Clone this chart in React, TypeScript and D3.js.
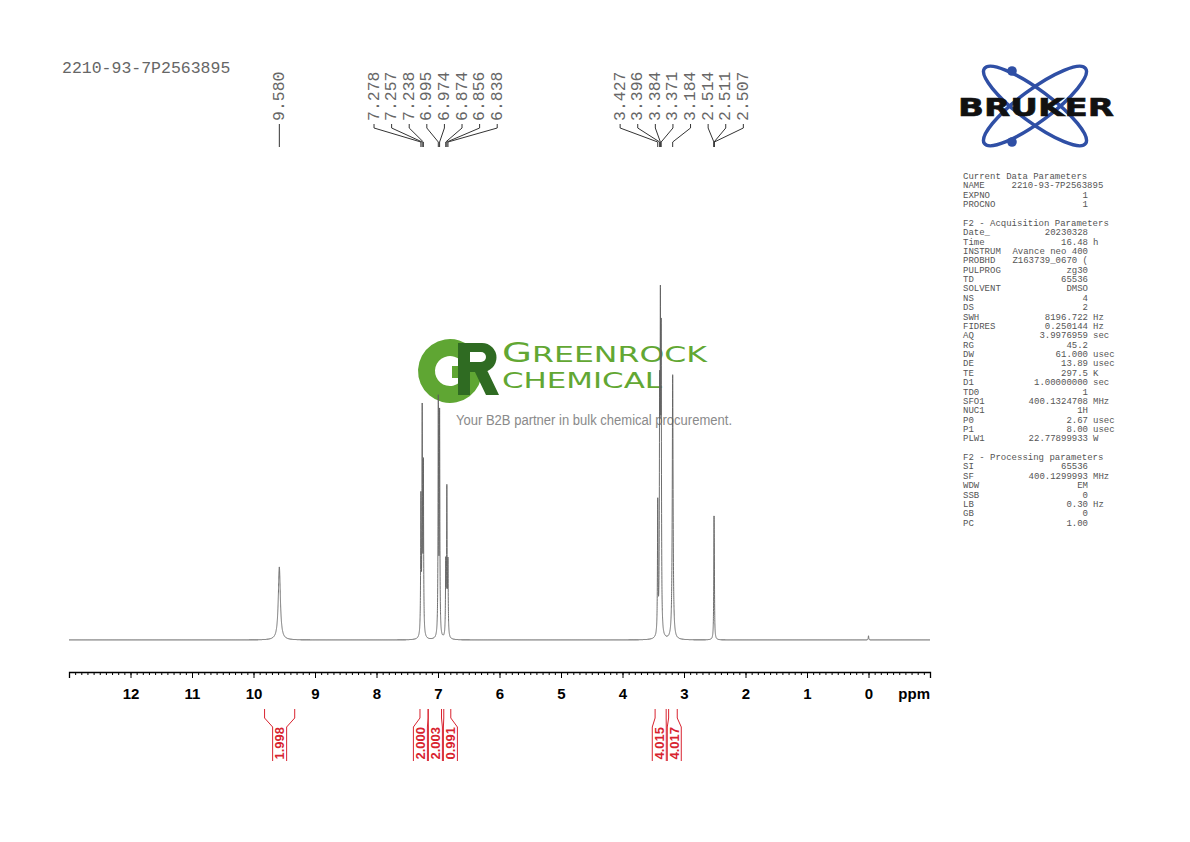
import React, { useEffect, useMemo, useRef } from "react";
import * as d3 from "d3";

const sampleName = "2210-93-7P2563895";

// 1H peak list: shift (ppm), height (% of tallest line), half width (ppm)
const peakShifts = [9.58, 7.278, 7.257, 7.238, 6.995, 6.974, 6.874, 6.856, 6.838, 3.427, 3.396, 3.384, 3.371, 3.184, 2.514, 2.511, 2.507, 0.0];
const peakHeights = [20.7, 38, 62, 47, 66, 62, 20, 41, 20, 37, 60, 81, 78, 75, 15, 18, 15, 1.2];
const peakWidths = [0.02, 0.005, 0.005, 0.005, 0.005, 0.005, 0.005, 0.005, 0.005, 0.005, 0.005, 0.005, 0.005, 0.008, 0.004, 0.004, 0.004, 0.005];
const peakLabels = ["9.580", "7.278", "7.257", "7.238", "6.995", "6.974", "6.874", "6.856", "6.838", "3.427", "3.396", "3.384", "3.371", "3.184", "2.514", "2.511", "2.507"];

// integral regions (ppm) and values
const integralFrom = [9.82, 7.293, 7.16, 6.906, 3.47, 3.25];
const integralTo = [9.33, 7.16, 6.943, 6.792, 3.29, 3.11];
const integralValues = ["1.998", "2.000", "2.003", "0.991", "4.015", "4.017"];

const tickValues = [12, 11, 10, 9, 8, 7, 6, 5, 4, 3, 2, 1, 0];

const paramNames = ["Current Data Parameters", "NAME", "EXPNO", "PROCNO", "", "F2 - Acquisition Parameters", "Date_", "Time", "INSTRUM", "PROBHD", "PULPROG", "TD", "SOLVENT", "NS", "DS", "SWH", "FIDRES", "AQ", "RG", "DW", "DE", "TE", "D1", "TD0", "SFO1", "NUC1", "P0", "P1", "PLW1", "", "F2 - Processing parameters", "SI", "SF", "WDW", "SSB", "LB", "GB", "PC"];
const paramValues = ["", "2210-93-7P2563895", "1", "1", "", "", "20230328", "16.48", "Avance neo 400", "Z163739_0670 (", "zg30", "65536", "DMSO", "4", "2", "8196.722", "0.250144", "3.9976959", "45.2", "61.000", "13.89", "297.5", "1.00000000", "1", "400.1324708", "1H", "2.67", "8.00", "22.77899933", "", "", "65536", "400.1299993", "EM", "0", "0.30", "0", "1.00"];
const paramUnits = ["", "", "", "", "", "", "", "h", "", "", "", "", "", "", "", "Hz", "Hz", "sec", "", "usec", "usec", "K", "sec", "", "MHz", "", "usec", "usec", "W", "", "", "", "MHz", "", "", "Hz", "", ""];

const mono = "'Liberation Mono', 'Courier New', monospace";
const sans = "'Liberation Sans', Arial, sans-serif";
const red = "#d8232f";

// spread label centres so that neighbours are at least `gap` apart
function spread(targets: number[], gap: number): number[] {
  const clusters: { sum: number; n: number; start: number }[] = [];
  targets.forEach((t) => {
    clusters.push({ sum: t, n: 1, start: t });
    while (clusters.length > 1) {
      const b = clusters[clusters.length - 1];
      const a = clusters[clusters.length - 2];
      if (a.start + a.n * gap <= b.start) break;
      clusters.pop();
      a.sum += b.sum;
      a.n += b.n;
      a.start = a.sum / a.n - ((a.n - 1) * gap) / 2;
    }
  });
  const out: number[] = [];
  clusters.forEach((c) => {
    for (let i = 0; i < c.n; i++) out.push(c.start + i * gap);
  });
  return out;
}

export default function App() {
  const axisRef = useRef<SVGGElement>(null);

  const x = d3.scaleLinear().domain([13, -1]).range([69, 930]);
  const y = d3.scaleLinear().domain([0, 100]).range([640, 287]);
  const axisY = 672;

  const spectrumPath = useMemo(() => {
    const pts: [number, number][] = d3.range(13, -1.0001, -0.0005).map((p) => {
      let v = 0;
      peakShifts.forEach((c, i) => {
        const d = (p - c) / peakWidths[i];
        v += peakHeights[i] / (1 + d * d);
      });
      return [p, v];
    });
    return d3
      .line<[number, number]>()
      .x((d) => x(d[0]))
      .y((d) => y(d[1]))(pts);
  }, []);

  // ring of the "G" in the watermark logo
  const gRing = d3.arc()({ innerRadius: 15, outerRadius: 32, startAngle: Math.PI / 2, endAngle: 2 * Math.PI + 0.75 });

  useEffect(() => {
    if (!axisRef.current) return;
    const g = d3.select(axisRef.current);
    g.selectAll("*").remove();

    g.append("g")
      .call(d3.axisBottom(x).tickValues(x.ticks(140)).tickSize(3).tickSizeOuter(0).tickFormat(() => ""))
      .call((s) => s.select(".domain").remove());

    const major = g
      .append("g")
      .call(d3.axisBottom(x).tickValues(tickValues).tickSize(6).tickSizeOuter(6).tickPadding(10).tickFormat(d3.format("d")));

    g.attr("color", "#000");
    g.selectAll("line").attr("stroke-width", 1);
    major.select(".domain").attr("stroke-width", 1.3);
    major
      .selectAll("text")
      .attr("font-family", sans)
      .attr("font-weight", "bold")
      .attr("font-size", 15)
      .attr("fill", "#000");
  }, []);

  // peak labels
  const labelledX = peakLabels.map((_, i) => x(peakShifts[i]));
  const labelX = spread(labelledX, 17.6);

  // integral label boxes
  const intCenters = integralFrom.map((f, i) => (x(f) + x(integralTo[i])) / 2);
  const boxX = spread(intCenters, 15);

  const rowH = 9.37;

  return (
    <div style={{ position: "absolute", left: 0, top: 0 }}>
      <svg width={1190} height={842} style={{ display: "block", background: "#fff" }}>
        {/* watermark */}
        <g>
          <path d={gRing ?? ""} transform="translate(450,371)" fill="#5fa633" />
          <rect x={452} y={366} width={30} height={12} fill="#5fa633" />
          <path
            d="M458,343H482A14.5,14.5 0 0 1 482,372H458Z M458,343H470V395H458Z M474,370H487L499,395H486Z"
            fill="#2f6b22"
          />
          <path d="M470,352H481A5,5 0 0 1 481,362H470Z" fill="#fff" />
          <text x={502} y={361.5} fontFamily="'DejaVu Sans', sans-serif" fontSize={22} fill="#62a733" textLength={205} lengthAdjust="spacingAndGlyphs">
            <tspan fontSize={27}>G</tspan>REENROCK
          </text>
          <text x={502} y={388} fontFamily="'DejaVu Sans', sans-serif" fontSize={22} fill="#62a733" textLength={160} lengthAdjust="spacingAndGlyphs">
            CHEMICAL
          </text>
          <text x={456} y={425} fontFamily={sans} fontSize={14} fill="#8a8a8a" textLength={276} lengthAdjust="spacingAndGlyphs">
            Your B2B partner in bulk chemical procurement.
          </text>
        </g>

        {/* spectrum */}
        <path d={spectrumPath ?? ""} fill="none" stroke="#5f5f5f" strokeWidth={0.9} />

        {/* ppm axis */}
        <g ref={axisRef} transform={`translate(0,${axisY})`} />
        <text x={930} y={699} textAnchor="end" fontFamily={sans} fontWeight="bold" fontSize={15}>
          ppm
        </text>

        {/* sample name */}
        <text x={62} y={73} fontFamily={mono} fontSize={16.5} fill="#666">
          {sampleName}
        </text>

        {/* peak labels */}
        <g>
          {peakLabels.map((lab, i) => {
            const lx = labelX[i];
            const px = labelledX[i];
            return (
              <g key={lab + i}>
                <text
                  transform={`translate(${lx},121) rotate(-90)`}
                  fontFamily={mono}
                  fontSize={16.5}
                  fill="#666"
                  dominantBaseline="central"
                >
                  {lab}
                </text>
                <path d={`M${lx},124V128L${px},142V147`} fill="none" stroke="#333" strokeWidth={1} />
              </g>
            );
          })}
        </g>

        {/* integrals */}
        <g>
          {integralValues.map((v, i) => {
            const x1 = x(integralFrom[i]);
            const x2 = x(integralTo[i]);
            const bl = boxX[i] - 7;
            const br = boxX[i] + 7;
            return (
              <g key={v + i}>
                <path d={`M${x1},709V718L${bl},727V761M${x2},709V718L${br},727V761`} fill="none" stroke={red} strokeWidth={1} />
                <text
                  transform={`translate(${boxX[i]},759.5) rotate(-90)`}
                  fontFamily={sans}
                  fontWeight="bold"
                  fontSize={13}
                  fill={red}
                  dominantBaseline="central"
                >
                  {v}
                </text>
              </g>
            );
          })}
        </g>

        {/* Bruker logo */}
        <g>
          <ellipse cx={1035} cy={106} rx={63} ry={16} transform="rotate(36.6 1035 106)" fill="none" stroke="#2f4fa5" strokeWidth={3.5} />
          <ellipse cx={1035} cy={106} rx={63} ry={16} transform="rotate(-36.6 1035 106)" fill="none" stroke="#2f4fa5" strokeWidth={3.5} />
          <circle cx={1012} cy={71} r={4.8} fill="#2f4fa5" />
          <circle cx={1012} cy={142} r={4.8} fill="#2f4fa5" />
          <text x={958} y={116} fontFamily="'DejaVu Sans', sans-serif" fontWeight="900" fontSize={25} fill="#111" textLength={156} lengthAdjust="spacingAndGlyphs" stroke="#111" strokeWidth={0.6}>
            BRUKER
          </text>
        </g>

        {/* acquisition / processing parameters */}
        <g fontFamily={mono} fontSize={9} fill="#555">
          {paramNames.map((n, i) => {
            const yy = 177 + i * rowH;
            return (
              <g key={"p" + i}>
                <text x={963} y={yy} dominantBaseline="central">
                  {n}
                </text>
                {paramValues[i] &&
                  (n === "NAME" ? (
                    <text x={1011.5} y={yy} dominantBaseline="central">
                      {paramValues[i]}
                    </text>
                  ) : (
                    <text x={1088} y={yy} textAnchor="end" dominantBaseline="central">
                      {paramValues[i]}
                    </text>
                  ))}
                {paramUnits[i] && (
                  <text x={1093} y={yy} dominantBaseline="central">
                    {paramUnits[i]}
                  </text>
                )}
              </g>
            );
          })}
        </g>
      </svg>
    </div>
  );
}
